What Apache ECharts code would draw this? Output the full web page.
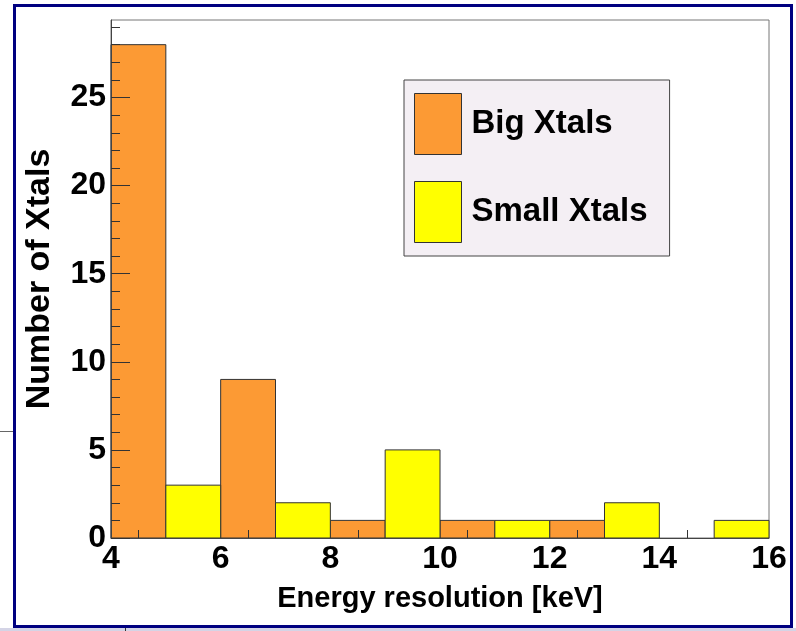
<!DOCTYPE html>
<html>
<head>
<meta charset="utf-8">
<script src="https://cdn.jsdelivr.net/npm/echarts@6/dist/echarts.min.js"></script>
<style>
  html, body { margin: 0; padding: 0; background: #ffffff; }
  #chart { width: 796px; height: 631px; }
</style>
</head>
<body>
<div id="chart"></div>
<script>
// Histogram bins (lower edge, bin width 1 keV)
const binLow = [4, 5, 6, 7, 8, 9, 10, 11, 12, 13, 14, 15];
const binWidth = 1;
// Counts per bin for each crystal size
const bigXtals   = [28, 0, 9, 0, 1, 0, 1, 0, 1, 0, 0, 0];
const smallXtals = [0, 3, 0, 2, 0, 5, 0, 1, 0, 2, 0, 1];
// Axis labels and ticks
const xLabels = [4, 6, 8, 10, 12, 14, 16];
const xMinorTicks = [4.5, 6.5, 8.5, 10.5, 12.5, 14.5];
const yLabels = [0, 5, 10, 15, 20, 25];
const yMinorTicks = [1, 2, 3, 4, 6, 7, 8, 9, 11, 12, 13, 14, 16, 17, 18, 19, 21, 22, 23, 24, 26, 27, 28, 29];
const xMin = 4, xMax = 16, yMax = 29.4;

const FONT = "'Liberation Sans', Arial, Helvetica, sans-serif";
const ORANGE = '#fc9a34';
const YELLOW = '#ffff00';

function toBins(counts) {
  const out = [];
  counts.forEach((c, i) => {
    if (c > 0) out.push([binLow[i], binLow[i] + binWidth, c]);
  });
  return out;
}

function histRect(params, api) {
  const lo = api.value(0), hi = api.value(1), v = api.value(2);
  const pTop = api.coord([lo, v]);
  const pBot = api.coord([hi, 0]);
  return {
    type: 'rect',
    shape: { x: pTop[0], y: pTop[1], width: pBot[0] - pTop[0], height: pBot[1] - pTop[1] },
    style: api.style({ stroke: '#333333', lineWidth: 1 })
  };
}

const chart = echarts.init(document.getElementById('chart'), null, { renderer: 'canvas' });

chart.setOption({
  animation: false,
  backgroundColor: '#ffffff',
  textStyle: { fontFamily: FONT },
  grid: {
    left: 111, right: 27, top: 20, bottom: 93,
    show: true, borderColor: '#777777', borderWidth: 1, backgroundColor: 'transparent'
  },
  legend: {
    orient: 'vertical',
    left: 404, top: 80,
    padding: [13, 22, 13, 10],
    itemGap: 26,
    itemWidth: 47, itemHeight: 61,
    backgroundColor: '#f4eff4',
    borderColor: '#444444', borderWidth: 1,
    itemStyle: { borderColor: '#333333', borderWidth: 1 },
    textStyle: { fontFamily: FONT, fontWeight: 'bold', fontSize: 33, color: '#000', padding: [0, 0, 0, 5] },
    data: [
      { name: 'Big Xtals', icon: 'rect' },
      { name: 'Small Xtals', icon: 'rect' }
    ]
  },
  xAxis: {
    type: 'value', min: xMin, max: xMax, z: 10,
    name: 'Energy resolution [keV]', nameLocation: 'middle', nameGap: 46,
    nameTextStyle: { fontFamily: FONT, fontWeight: 'bold', fontSize: 29, color: '#000' },
    axisLine: { show: true, lineStyle: { color: '#444444', width: 1 } },
    axisTick: { show: true, inside: true, length: 8, customValues: xMinorTicks, lineStyle: { color: '#333333' } },
    axisLabel: { show: true, customValues: xLabels, margin: 5, fontFamily: FONT, fontWeight: 'bold', fontSize: 32, color: '#000' },
    splitLine: { show: false }
  },
  yAxis: [
    {
      type: 'value', min: 0, max: yMax, position: 'left', z: 10,
      name: 'Number of Xtals', nameLocation: 'middle', nameGap: 54, nameRotate: 90,
      nameTextStyle: { fontFamily: FONT, fontWeight: 'bold', fontSize: 34, color: '#000' },
      axisLine: { show: true, lineStyle: { color: '#444444', width: 1 } },
      axisTick: { show: true, inside: true, length: 19, customValues: yLabels, lineStyle: { color: '#333333' } },
      axisLabel: { show: true, customValues: yLabels, margin: 5, padding: [8, 0, 0, 0], fontFamily: FONT, fontWeight: 'bold', fontSize: 32, color: '#000' },
      splitLine: { show: false }
    },
    {
      type: 'value', min: 0, max: yMax, position: 'left', offset: 0, z: 10,
      axisLine: { show: false },
      axisTick: { show: true, inside: true, length: 9, customValues: yMinorTicks, lineStyle: { color: '#333333' } },
      axisLabel: { show: false },
      splitLine: { show: false }
    }
  ],
  series: [
    {
      name: 'Big Xtals', type: 'custom', xAxisIndex: 0, yAxisIndex: 0,
      itemStyle: { color: ORANGE, borderColor: '#333333', borderWidth: 1 },
      encode: { x: [0, 1], y: 2 },
      renderItem: histRect,
      data: toBins(bigXtals),
      z: 2
    },
    {
      name: 'Small Xtals', type: 'custom', xAxisIndex: 0, yAxisIndex: 0,
      itemStyle: { color: YELLOW, borderColor: '#333333', borderWidth: 1 },
      encode: { x: [0, 1], y: 2 },
      renderItem: histRect,
      data: toBins(smallXtals),
      z: 2
    }
  ],
  graphic: [
    {
      type: 'rect', z: 100, silent: true,
      shape: { x: 14.5, y: 5.5, width: 777, height: 621 },
      style: { fill: 'none', stroke: '#000080', lineWidth: 3 }
    },
    {
      type: 'rect', z: 99, silent: true,
      shape: { x: 0, y: 628, width: 796, height: 3 },
      style: { fill: '#d4d4e6' }
    },
    {
      type: 'line', z: 99, silent: true,
      shape: { x1: 0, y1: 431.5, x2: 13, y2: 431.5 },
      style: { stroke: '#666666', lineWidth: 1 }
    },
    {
      type: 'line', z: 99, silent: true,
      shape: { x1: 125.5, y1: 627, x2: 125.5, y2: 631 },
      style: { stroke: '#333333', lineWidth: 1 }
    }
  ]
});
</script>
</body>
</html>
